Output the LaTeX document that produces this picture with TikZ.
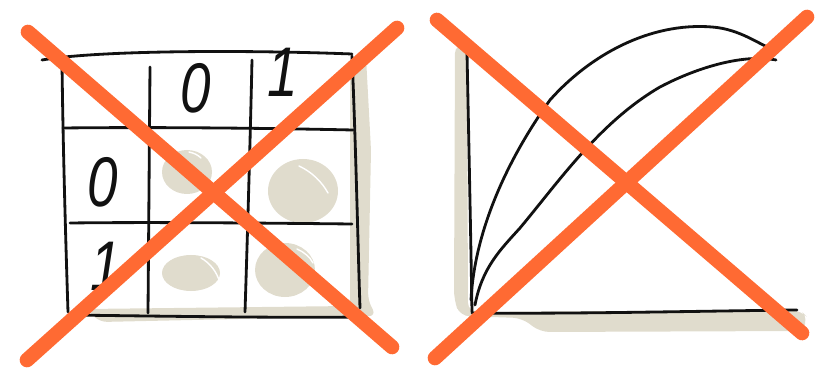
\documentclass[tikz,border=0pt]{standalone}
\usepackage{fontspec}
\usepackage{tikz}
\usetikzlibrary{positioning}
\newfontfamily\handfont{Liberation Sans}[FakeStretch=0.78]
\definecolor{crossorange}{HTML}{FF6A33}
\definecolor{shadowbeige}{HTML}{E0DCCD}
\definecolor{inkblack}{HTML}{111111}

\begin{document}
\begin{tikzpicture}[
  x=0.03cm, y=-0.03cm,
  ink/.style={draw=inkblack, line width=2.4pt, line cap=round},
  shadow/.style={fill=shadowbeige, draw=none},
  blob/.style={fill=shadowbeige, draw=none},
  gleam/.style={draw=white, line width=1.2pt, line cap=round},
  crossline/.style={draw=crossorange, line width=12.5pt, line cap=round},
  digit/.style={font=\handfont\itshape\fontsize{60}{60}\selectfont,
                text=inkblack, inner sep=0pt}
]
\useasboundingbox (0,0) rectangle (820,376);

%% ── Left sketch: the 3x3 table ───────────────────────────────
\path[shadow, rounded corners=6pt]
  (350,58) -- (366,57) -- (371,150) -- (368,300) -- (376,316)
  -- (100,322) -- (86,309) -- (350,306) -- cycle;

%% blobs in the four result cells
\path[blob] (187,172) ellipse [x radius=25, y radius=22];
\path[blob] (303,191) ellipse [x radius=35, y radius=32];
\path[blob] (191,273) ellipse [x radius=29, y radius=18];
\path[blob] (285,270) ellipse [x radius=30, y radius=27];
\draw[gleam] (299,166) .. controls (312,172) and (322,182) .. (328,193);
\draw[gleam] (201,258) .. controls (210,263) and (217,272) .. (220,283);
\draw[gleam] (297,249) .. controls (304,252) and (310,257) .. (313,263);
\draw[gleam] (189,152) .. controls (194,153) and (198,155) .. (201,158);

%% grid lines
\draw[ink] (42,60) .. controls (100,50) and (250,50) .. (352,54);
\draw[ink] (62,62) .. controls (63,150) and (66,250) .. (68,312);
\draw[ink] (68,315) .. controls (150,316) and (280,318) .. (358,317);
\draw[ink] (352,56) .. controls (356,150) and (358,250) .. (360,308);
\draw[ink] (150,67) -- (148,313);
\draw[ink] (252,60) .. controls (250,150) and (247,250) .. (245,312);
\draw[ink] (63,128) .. controls (150,127) and (260,128) .. (353,130);
\draw[ink] (70,223) .. controls (150,222) and (260,223) .. (352,224);

%% row and column labels
\node[digit] (colzero) at (196,88) {0};
\node[digit] (colone)  at (283,72) {1};
\node[digit] (rowzero) at (103,182) {0};
\node[digit] (rowone)  at (106,266) {1};

%% ── Right sketch: the two curves ─────────────────────────────
\path[shadow, rounded corners=8pt]
  (455,44) -- (467,45) -- (468,312) -- (800,310) -- (809,319)
  -- (800,331) -- (540,332) -- (522,318) -- (460,316) -- (454,300) -- cycle;

\draw[ink] (467,53) .. controls (469,150) and (471,250) .. (472,312);
\draw[ink] (472,313) .. controls (580,314) and (700,311) .. (797,310);

\draw[ink] (471,300) .. controls (474,240) and (500,170) .. (550,100)
  .. controls (590,55) and (650,22) .. (712,27)
  .. controls (740,29) and (760,45) .. (774,50);
\draw[ink] (475,305) .. controls (482,268) and (500,250) .. (520,228)
  .. controls (560,180) and (600,122) .. (660,87)
  .. controls (700,66) and (745,54) .. (776,60);

%% ── Crossing-out strokes ─────────────────────────────────────
\draw[crossline] (28,32)  -- (392,347);
\draw[crossline] (397,28) -- (27,360);
\draw[crossline] (437,20) -- (802,333);
\draw[crossline] (807,17) -- (435,358);

\end{tikzpicture}
\end{document}
